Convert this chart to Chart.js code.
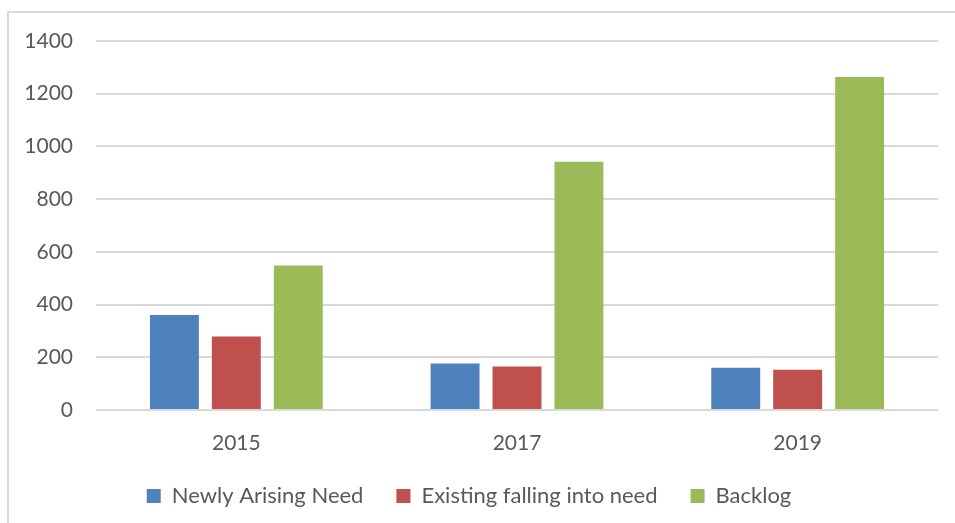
<!DOCTYPE html>
<html lang="en">
<head>
  <meta charset="UTF-8">
  <title>Housing need by year</title>
  <script src="https://cdn.jsdelivr.net/npm/chart.js"></script>
  <style>
    html, body {
      margin: 0;
      padding: 0;
      background: #ffffff;
      overflow: hidden;
    }
    #frame {
      position: absolute;
      left: 7px;
      top: 11px;
      width: 1000px;
      height: 600px;
      border-top: 2px solid #d9d9d9;
      border-left: 2px solid #d9d9d9;
    }
    #wrap {
      position: absolute;
      left: 0;
      top: 0;
      width: 955px;
      height: 517px;
    }
  </style>
</head>
<body>
  <div id="frame"></div>
  <div id="wrap">
    <canvas id="grafico"></canvas>
  </div>

  <script>
    const years = ['2015', '2017', '2019'];
    const newlyArising = [360, 176, 160];
    const existingFalling = [279, 165, 153];
    const backlog = [548, 942, 1263];

    const textColor = '#595959';
    const gridColor = '#d9d9d9';
    const fontFamily = 'Lato, "Open Sans", sans-serif';

    const ctx = document.getElementById('grafico').getContext('2d');
    const chart = new Chart(ctx, {
      type: 'bar',
      data: {
        labels: years,
        datasets: [
          { label: 'Newly Arising Need', data: newlyArising, backgroundColor: '#4f81bd' },
          { label: 'Existing falling into need', data: existingFalling, backgroundColor: '#c0504d' },
          { label: 'Backlog', data: backlog, backgroundColor: '#9bbb59' }
        ]
      },
      options: {
        responsive: true,
        maintainAspectRatio: false,
        animation: false,
        categoryPercentage: 0.662,
        barPercentage: 0.79,
        layout: {
          padding: { top: 41, right: 17, left: 0, bottom: 0 }
        },
        plugins: {
          tooltip: { enabled: false },
          legend: {
            position: 'bottom',
            labels: {
              color: textColor,
              font: { family: fontFamily, size: 22 },
              boxWidth: 14,
              boxHeight: 14,
              padding: 33
            }
          }
        },
        scales: {
          x: {
            grid: { display: false },
            border: { display: false },
            ticks: {
              color: textColor,
              font: { family: fontFamily, size: 21 },
              padding: 13
            },
            afterFit: (scale) => { scale.height = 42; }
          },
          y: {
            min: 0,
            max: 1400,
            grid: { color: gridColor, lineWidth: 2, drawTicks: false },
            border: { display: false },
            ticks: {
              stepSize: 200,
              color: textColor,
              font: { family: fontFamily, size: 21 },
              padding: 23,
              callback: (value) => String(value)
            },
            afterFit: (scale) => { scale.width = 96; }
          }
        }
      }
    });
  </script>
</body>
</html>
